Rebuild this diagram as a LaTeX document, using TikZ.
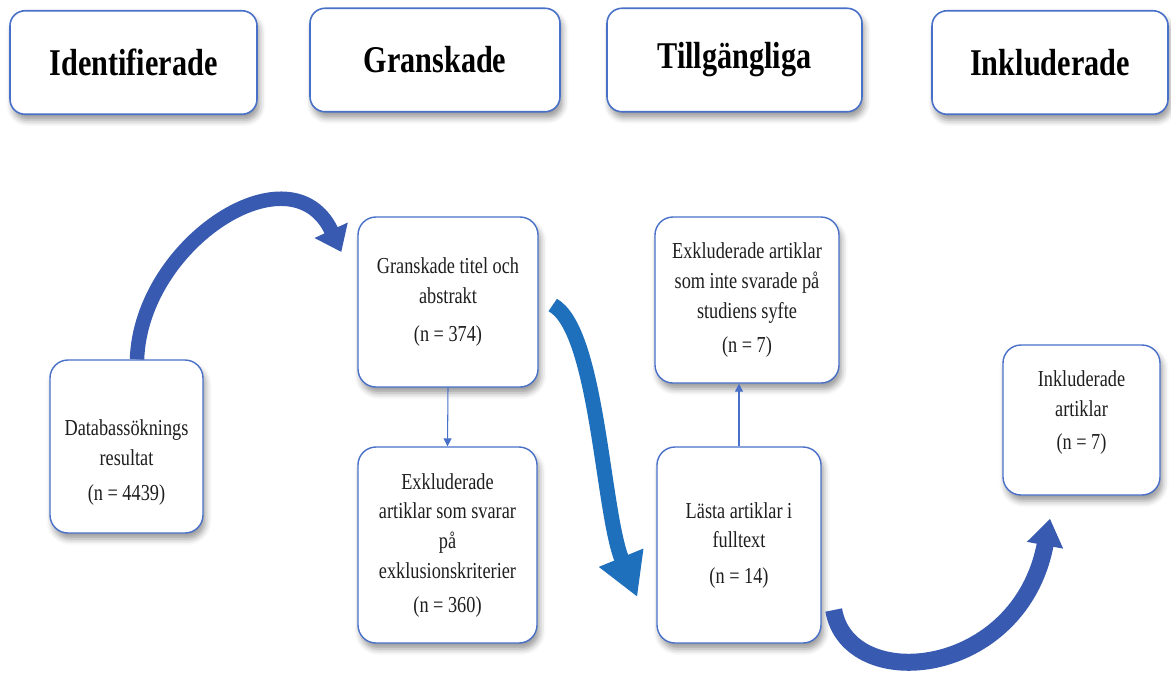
\documentclass[tikz,border=0pt]{standalone}
\usepackage{fontspec}
\setmainfont{Liberation Serif}[FakeStretch=0.8]
\usepackage{xcolor}
\usepackage{tikz}
\usetikzlibrary{arrows.meta,shadows.blur}
\definecolor{boxblue}{RGB}{72,112,200}
\definecolor{arcblue}{RGB}{56,90,176}
\definecolor{flowblue}{RGB}{31,112,188}
\definecolor{textgray}{RGB}{30,30,30}
\tikzset{
head/.style = {rectangle, draw=boxblue, line width=0.9pt, rounded corners=0.3cm,
               fill=white, minimum height=2.07cm, minimum width=#1,
               blur shadow={shadow xshift=0.05cm, shadow yshift=-0.12cm,
                            shadow blur radius=0.12cm, shadow opacity=40},
               font=\fontsize{21.5}{25}\selectfont\bfseries},
head/.default = 5cm % width of the header box
}
\tikzset{
box/.style = {rectangle, draw=boxblue, line width=0.8pt, rounded corners=0.36cm,
              fill=white, text=textgray, align=center, minimum width=#1,
              blur shadow={shadow xshift=0.05cm, shadow yshift=-0.12cm,
                           shadow blur radius=0.12cm, shadow opacity=40},
              font=\fontsize{13}{17}\selectfont},
box/.default = 3.5cm
}
\tikzset{
link/.style = {draw=boxblue, line width=0.6pt, -{Triangle[length=4.5pt,width=4.5pt]}}
}

\begin{document}
\begin{tikzpicture}
    \useasboundingbox (0,0) rectangle (23.42,-13.44);

    \node[head=4.94cm] (idHead)   at (2.67,-1.25)  {Identifierade};
    \node[head=5cm]    (granHead) at (8.70,-1.20)  {Granskade};
    \node[head=5.1cm]  (tillHead) at (14.69,-1.20) {Tillgängliga};
    \node[head=4.72cm] (inklHead) at (21.0,-1.25)  {Inkluderade};

    \node[box=3.06cm, minimum height=3.46cm] (dbBox) at (2.53,-8.93)
        {\rule{0pt}{27pt}Databassöknings\\ resultat\\[3pt] (n = 4439)};
    \node[box=3.6cm, minimum height=3.4cm] (titleBox) at (8.96,-6.04)
        {Granskade titel och\\ abstrakt\\[5pt] (n = 374)};
    \node[box=3.58cm, minimum height=3.92cm] (exclBox) at (8.95,-10.9)
        {Exkluderade\\ artiklar som svarar\\ på\\ exklusionskriterier\\[2pt] (n = 360)};
    \node[box=3.68cm, minimum height=3.32cm] (syfteBox) at (14.94,-6.0)
        {Exkluderade artiklar\\ som inte svarade på\\ studiens syfte\\[2pt] (n = 7)};
    \node[box=3.28cm, minimum height=3.92cm] (fullBox) at (14.78,-10.9)
        {Lästa artiklar i\\ fulltext\\[3pt] (n = 14)};
    \node[box=3.14cm, minimum height=3.0cm] (resultBox) at (21.63,-8.4)
        {Inkluderade\\ artiklar\\[2pt] (n = 7)\rule[-11pt]{0pt}{11pt}};

    \draw[link] (titleBox.south) -- (exclBox.north);
    \draw[link] (fullBox.north) -- (fullBox.north |- syfteBox.south);

    % curved block arrows
    \draw[arcblue, line width=0.29cm, -{Triangle[length=0.48cm,width=0.7cm]}]
        ([xshift=0.21cm]dbBox.north) to[out=88, in=115, looseness=1.3]
        ([shift={(-0.32,1.0)}]titleBox.west);
    \draw[flowblue, line width=0.3cm, -{Triangle[length=0.85cm,width=0.9cm]}]
        ([shift={(0.28,-0.06)}]titleBox.east) .. controls +(0.9,-0.5) and +(-0.7,1.7) ..
        ([shift={(-0.38,-1.04)}]fullBox.west);
    \draw[arcblue, line width=0.34cm, -{Triangle[length=0.54cm,width=0.7cm]}]
        ([shift={(0.24,-1.3)}]fullBox.east) .. controls +(0.29,-1.7) and +(-0.6,-3.2) ..
        ([shift={(-0.63,-0.46)}]resultBox.south);
\end{tikzpicture}
\end{document}
